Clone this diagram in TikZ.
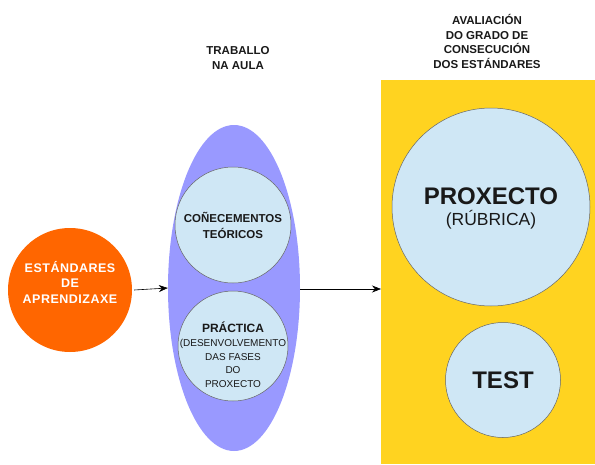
\documentclass[tikz,border=0pt]{standalone}
\usepackage{fontspec}
\setmainfont{Liberation Sans}
\usetikzlibrary{shapes.geometric,arrows.meta}
\definecolor{orangeC}{RGB}{255,102,0}
\definecolor{ovalC}{RGB}{153,153,255}
\definecolor{circC}{RGB}{207,231,245}
\definecolor{yellowC}{RGB}{255,211,32}
\definecolor{txtC}{RGB}{25,25,25}
\begin{document}
\begin{tikzpicture}[x=1pt,y=-1pt,
  circ/.style={circle,draw=gray!80!black,line width=0.5pt,fill=circC,inner sep=0pt,text=txtC,align=center},
  lbl/.style={text=txtC,align=center,inner sep=0pt},
  head/.style={font=\bfseries\fontsize{11.5}{14.5}\selectfont,text=txtC,align=center,inner sep=0pt},
  arr/.style={-{Stealth[length=9pt,width=7pt]},line width=0.6pt,black}]
\useasboundingbox (0,0) rectangle (595,464);
\fill[white] (0,0) rectangle (595,464);
\node[draw=none,fill=yellowC,minimum width=214pt,minimum height=384pt,inner sep=0pt,anchor=north west] (aval) at (381,80) {};
\node[circle,fill=orangeC,minimum size=124pt,inner sep=0pt] (est) at (70,290) {};
\node[lbl,text=white,font=\bfseries\fontsize{12.5}{15.5}\selectfont\addfontfeatures{LetterSpace=4}] (estl) at (70,282) {ESTÁNDARES\\DE\\APRENDIZAXE};
\node[ellipse,fill=ovalC,minimum width=132pt,minimum height=326pt,inner sep=0pt] (aula) at (234,288) {};
\node[circ,minimum size=116pt,font=\bfseries\fontsize{11.5}{16}\selectfont] (kon) at (233,225) {COÑECEMENTOS\\TEÓRICOS};
\node[circ,minimum size=110pt] (prac) at (233,346) {};
\node[lbl,font=\fontsize{10}{13.7}\selectfont] (pracl) at (233,355)
  {\textbf{\fontsize{12}{13.7}\selectfont PRÁCTICA}\\(DESENVOLVEMENTO\\DAS FASES\\DO\\PROXECTO};
\node[circ,minimum size=198pt] (proj) at (491,207) {};
\node[lbl] (projl) at (491,208.5)
  {{\bfseries\fontsize{24}{26}\selectfont PROXECTO}\\[5pt]{\fontsize{17.5}{20}\selectfont (RÚBRICA)}};
\node[circ,minimum size=115pt,font=\bfseries\fontsize{24}{26}\selectfont] (test) at (503,380) {TEST};
\node[head] (h1) at (238,58) {TRABALLO\\NA AULA};
\node[head] (h2) at (487,41.5) {AVALIACIÓN\\DO GRADO DE\\CONSECUCIÓN\\DOS ESTÁNDARES};
\draw[arr] ([xshift=2pt]est.east) -- (aula.west);
\draw[arr] ([yshift=-1pt]aula.east) -- ([yshift=-1pt]aula.east -| aval.west);
\end{tikzpicture}
\end{document}
